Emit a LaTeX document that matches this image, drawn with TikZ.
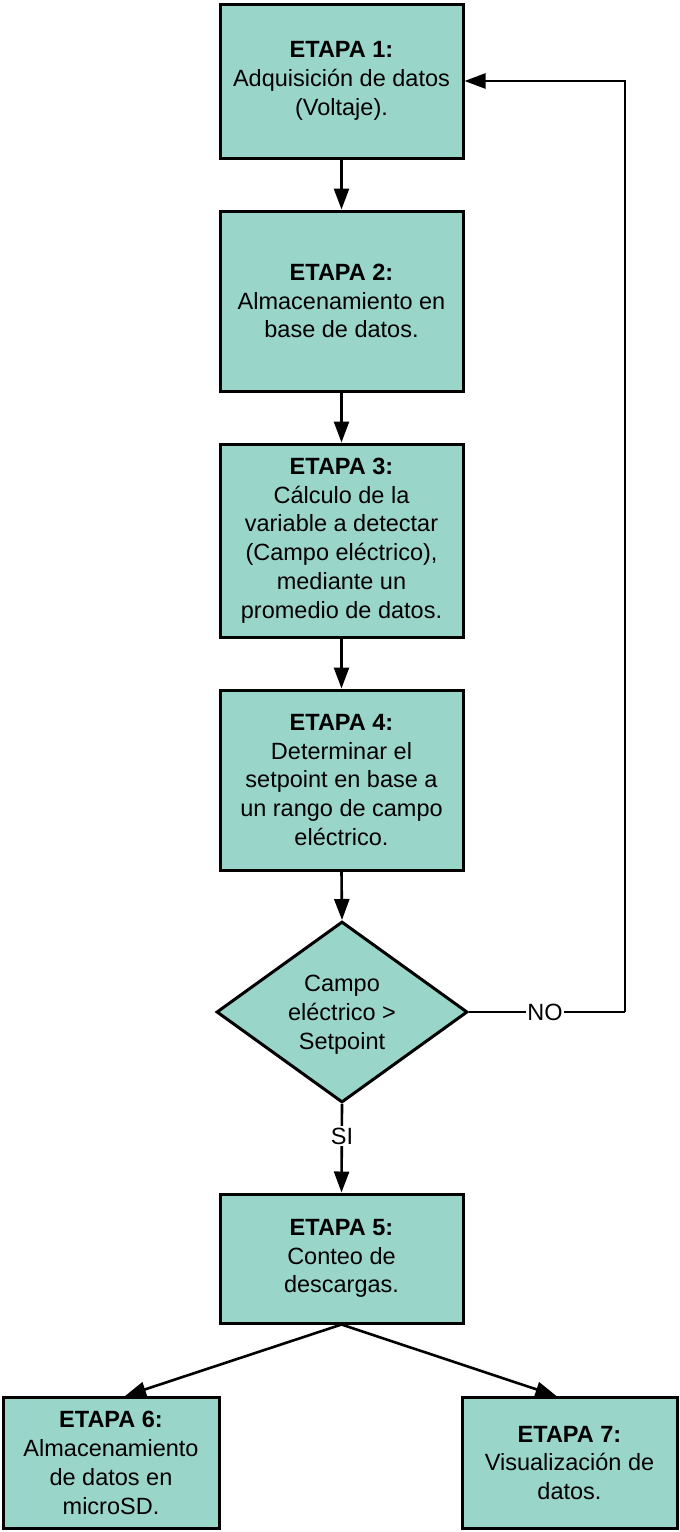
\documentclass[tikz,border=0pt]{standalone}
\usepackage{fontspec}
\setmainfont{Liberation Sans}
\usetikzlibrary{arrows.meta,shapes.geometric,calc}
\definecolor{stagefill}{HTML}{9AD5CA}
\begin{document}
\begin{tikzpicture}[x=1pt,y=-1pt,
  txt/.style={font=\fontsize{23.5}{28.8}\selectfont, align=center},
  stagebox/.style={draw=black, line width=3pt, fill=stagefill, rectangle,
    inner sep=0pt, txt},
  decision/.style={draw=black, line width=3pt, fill=stagefill, diamond,
    inner sep=0pt, minimum width=251pt, minimum height=181pt},
  flow/.style={line width=2.6pt, -{Triangle[length=21pt,width=15pt]}},
  plain/.style={line width=2.6pt},
  lbl/.style={txt, fill=white, inner sep=1.5pt}]
\useasboundingbox (0,0) rectangle (680,1532);

% stages along the main column
\node[stagebox, minimum width=243pt, minimum height=154pt] (b1) at (341.5,81)
  {\textbf{ETAPA 1:}\\Adquisición de datos\\(Voltaje).};
\node[stagebox, minimum width=243pt, minimum height=180pt] (b2) at (341.5,301)
  {\textbf{ETAPA 2:}\\Almacenamiento en\\base de datos.};
\node[stagebox, minimum width=243pt, minimum height=193pt] (b3) at (341.5,540.5)
  {\textbf{ETAPA 3:}\\Cálculo de la\\variable a detectar\\(Campo eléctrico),\\mediante un\\promedio de datos.};
\node[stagebox, minimum width=243pt, minimum height=180pt] (b4) at (341.5,780)
  {\textbf{ETAPA 4:}\\Determinar el\\setpoint en base a\\un rango de campo\\eléctrico.};

% decision
\node[decision] (d) at (342,1012) {};
\node[txt] (dt) at (342,1015) {Campo\\eléctrico >\\Setpoint};

\node[stagebox, minimum width=243pt, minimum height=129pt] (b5) at (341.5,1258.5)
  {\textbf{ETAPA 5:}\\Conteo de\\descargas.};
\node[stagebox, minimum width=216pt, minimum height=131pt] (b6) at (111,1463)
  {\textbf{ETAPA 6:}\\Almacenamiento\\de datos en\\microSD.};
\node[stagebox, minimum width=215pt, minimum height=131pt] (b7) at (569.5,1463)
  {\textbf{ETAPA 7:}\\Visualización de\\datos.};

% connectors
\draw[flow] (b1.south) -- (b2.north);
\draw[flow] (b2.south) -- (b3.north);
\draw[flow] (b3.south) -- (b4.north);
\draw[flow] (b4.south) -- (d.north);

\coordinate (loopA) at (625,1012);
\coordinate (loopB) at (625,81);
\draw[plain] (d.east) -- (loopA);
\draw[flow] (loopA) -- (loopB) -- (b1.east);
\node[lbl] (no) at (545,1012) {NO};

\draw[flow] (d.south) -- (b5.north);
\node[lbl] (si) at (342,1136) {SI};

\draw[flow] (b5.south) -- ($(b6.north)+(14,0)$);
\draw[flow] (b5.south) -- ($(b7.north)+(-13,0)$);
\end{tikzpicture}
\end{document}
